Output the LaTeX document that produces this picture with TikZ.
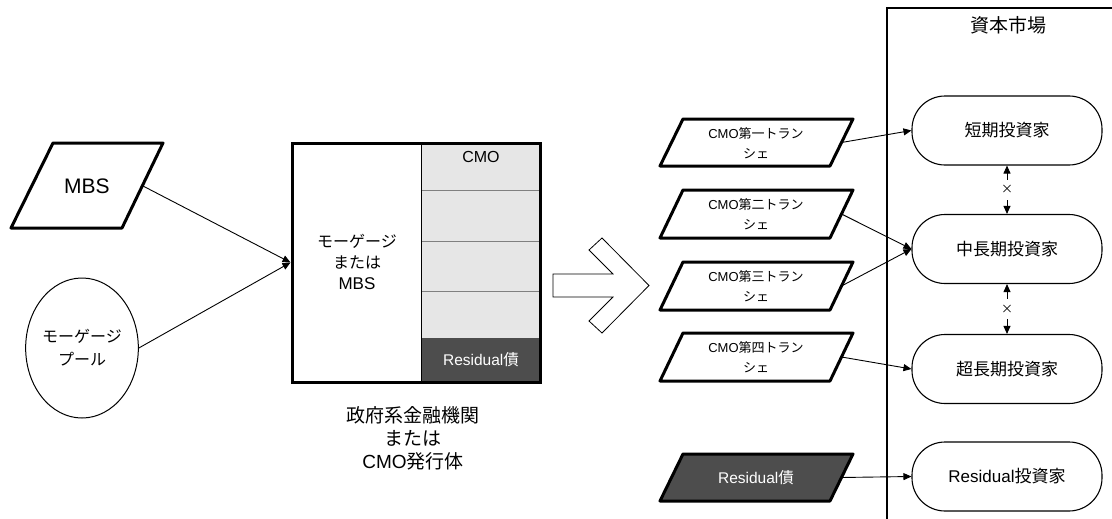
\documentclass[tikz,border=0pt]{standalone}
\usepackage{fontspec}
\setmainfont{Noto Sans CJK JP}
\newfontfamily\lat{Liberation Sans}
\usetikzlibrary{arrows.meta,shapes.geometric}
\definecolor{lightcell}{HTML}{E6E6E6}
\definecolor{darkcell}{HTML}{4D4D4D}
\begin{document}
\begin{tikzpicture}[x=1pt,y=-1pt,
  thickshape/.style={line width=3pt, line join=round},
  conn/.style={line width=0.9pt, -{Triangle[length=8pt,width=7pt]}},
  dbl/.style={line width=0.9pt, {Triangle[length=8pt,width=7pt]}-{Triangle[length=8pt,width=7pt]}},
  lbl/.style={align=center, inner sep=0pt},
  trtext/.style={lbl, font=\fontsize{13}{20}\selectfont},
  investor/.style={draw, line width=1.1pt, rounded corners=33pt, fill=white,
    minimum width=190pt, minimum height=69pt, inner sep=0pt,
    font=\fontsize{17}{20}\selectfont}]
\useasboundingbox (0,0) rectangle (1112,519);

% capital market frame
\draw[line width=1.2pt] (887,530) -- (887,8) -- (1125,8);
\node[font=\fontsize{19}{22}\selectfont] (market) at (1008,25) {資本市場};

% MBS parallelogram
\draw[thickshape] (53,143) -- (163,143) -- (122,228) -- (11,228) -- cycle;
\node[font=\fontsize{21}{24}\selectfont\lat] (mbs) at (87,186) {MBS};
\coordinate (mbsout) at (143,186);

% mortgage pool
\node[draw, ellipse, line width=1pt, minimum width=105pt, minimum height=140pt,
  align=center, inner sep=0pt, font=\fontsize{16}{23}\selectfont] (pool) at (82,348) {モーゲージ\\プール};

% big box
\fill[lightcell] (421,143) rectangle (540,338);
\fill[darkcell] (421,338) rectangle (540,382);
\draw[gray, line width=1pt] (421,190) -- (540,190) (421,241) -- (540,241) (421,291) -- (540,291);
\draw[line width=1pt] (421,143) -- (421,382);
\node[draw, line width=3pt, minimum width=248pt, minimum height=239pt, inner sep=0pt] (box) at (416,262.5) {};
\node[lbl, font=\fontsize{16}{21}\selectfont] (mort) at (357,262) {モーゲージ\\または\\{\lat\fontsize{17}{21}\selectfont MBS}};
\node[font=\fontsize{16}{18}\selectfont\lat] (cmo) at (481,157) {CMO};
\node[font=\fontsize{15.5}{18}\selectfont, text=white] (resid) at (481,360) {{\lat Residual}債};
\node[lbl, font=\fontsize{19}{23}\selectfont] (issuer) at (413,438) {政府系金融機関\\または\\{\lat CMO}発行体};

\draw[conn] (mbsout) -- (box.west);
\draw[conn] (pool.east) -- (box.west);

% block arrow
\draw[line width=0.8pt, line join=miter, fill=white] (553,274) -- (613,274) -- (589,250) -- (602,238)
  -- (649,285.5) -- (602,333) -- (589,321) -- (613,297) -- (553,297) -- cycle;

% tranches
\draw[thickshape, fill=white] (683,119) -- (853,119) -- (830,166) -- (660,166) -- cycle;
\node[trtext] (t1) at (756,143) {{\lat CMO}第一トラン\\シェ};
\coordinate (t1out) at (841.5,142.5);

\draw[thickshape, fill=white] (683,190) -- (853,190) -- (830,238) -- (660,238) -- cycle;
\node[trtext] (t2) at (756,214) {{\lat CMO}第二トラン\\シェ};
\coordinate (t2out) at (841.5,214);

\draw[thickshape, fill=white] (683,262) -- (853,262) -- (830,310) -- (660,310) -- cycle;
\node[trtext] (t3) at (756,286) {{\lat CMO}第三トラン\\シェ};
\coordinate (t3out) at (841.5,286);

\draw[thickshape, fill=white] (683,333) -- (853,333) -- (830,381) -- (660,381) -- cycle;
\node[trtext] (t4) at (756,357) {{\lat CMO}第四トラン\\シェ};
\coordinate (t4out) at (841.5,357);

\draw[thickshape, fill=darkcell] (683,454) -- (853,454) -- (830,501) -- (660,501) -- cycle;
\node[font=\fontsize{15.5}{18}\selectfont, text=white] (tres) at (756,477.5) {{\lat Residual}債};
\coordinate (tresout) at (841.5,477.5);

% investors
\node[investor] (short) at (1007,130.5) {短期投資家};
\node[investor] (mid) at (1007,249) {中長期投資家};
\node[investor] (super) at (1007,369) {超長期投資家};
\node[investor] (resinv) at (1007,476.5) {{\lat Residual}投資家};

\draw[conn] (t1out) -- (short.west);
\draw[conn] (t2out) -- (mid.west);
\draw[conn] (t3out) -- (mid.west);
\draw[conn] (t4out) -- (super.west);
\draw[conn] (tresout) -- (resinv.west);

\draw[dbl] (short.south) -- node[fill=white, inner sep=1pt, minimum height=20pt, font=\fontsize{12}{13}\selectfont] (x1) {×} (mid.north);
\draw[dbl] (mid.south) -- node[fill=white, inner sep=1pt, minimum height=20pt, font=\fontsize{12}{13}\selectfont] (x2) {×} (super.north);
\end{tikzpicture}
\end{document}
